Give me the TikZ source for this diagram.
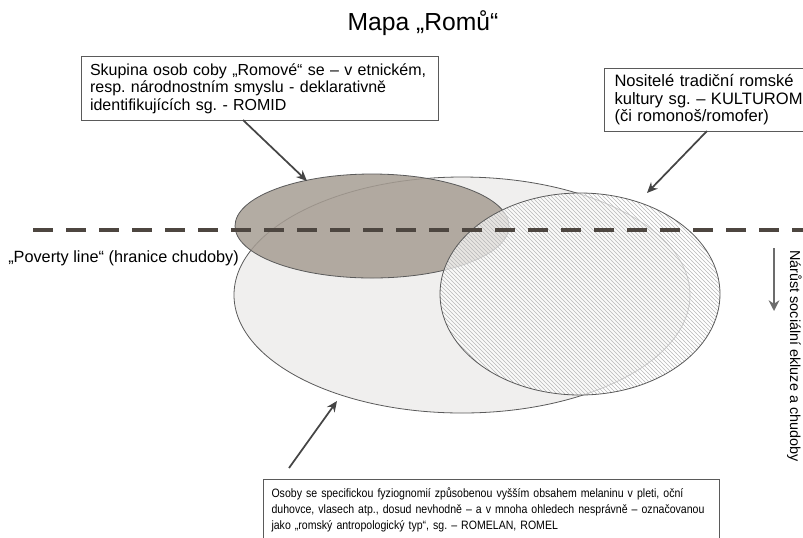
\documentclass[tikz,border=0pt]{standalone}
\usepackage{fontspec}
\setmainfont{Liberation Sans}
\newfontfamily\narrowsans[FakeStretch=0.87]{Liberation Sans}
\usetikzlibrary{patterns,arrows.meta,shapes.geometric}
\definecolor{edgegray}{HTML}{5A5A5A}
\definecolor{lightfill}{HTML}{F0EFEE}
\definecolor{darkfill}{HTML}{A69D93}
\definecolor{dashcol}{HTML}{4D4640}
\definecolor{arrowcol}{HTML}{454545}
\tikzset{
  labelbox/.style={draw=edgegray, line width=0.8pt, fill=white, rectangle, align=left,
    inner xsep=7.5pt, inner ysep=2pt, anchor=north west},
  blob/.style={ellipse, inner sep=0pt, draw=edgegray, line width=0.6pt},
  pointer/.style={draw=arrowcol, line width=1.3pt, -{Stealth[length=8pt,width=7pt]}},
  boxfont/.style={font=\fontsize{12}{13.1}\selectfont},
}
\begin{document}
\frenchspacing
\hyphenpenalty=10000
\begin{tikzpicture}[x=0.75pt,y=-0.75pt]
\useasboundingbox (0,0) rectangle (803,537);
\clip (0,0) rectangle (803,537);
% title
\node[font=\fontsize{18.5}{22}\selectfont] (title) at (423,23) {Mapa „Romů“};
% ellipses
\node[blob, fill=lightfill, minimum width=342pt, minimum height=177pt] (romelan) at (462,295) {};
\node[blob, fill=darkfill, fill opacity=0.85, minimum width=205.5pt, minimum height=78pt] (romid) at (372,226) {};
\node[blob, preaction={fill=white, fill opacity=0.7}, pattern=north west lines, pattern color=gray!55,
  minimum width=210pt, minimum height=151.5pt] (kulturom) at (580,294) {};
% poverty line
\coordinate (pl) at (33,230);
\coordinate (pr) at (810,230);
\draw[dashcol, line width=3pt, dash pattern=on 15pt off 9.75pt] (pl) -- (pr);
\node[font=\fontsize{12.2}{13.1}\selectfont, anchor=base west, inner sep=0pt] (poverty) at (8,262) {„Poverty line“ (hranice chudoby)};
% boxes
\node[labelbox, boxfont, inner xsep=6.375pt, text width=255pt, minimum height=48pt] (b1) at (81,56)
  {Skupina osob coby „Romové“ se – v etnickém,\\resp. národnostním smyslu - deklarativně\\identifikujících sg. - ROMID};
\node[labelbox, font=\fontsize{12.4}{13.1}\selectfont, text width=152pt, minimum height=47.25pt, inner ysep=3.5pt] (b2) at (604,68)
  {Nositelé tradiční romské\\kultury sg. – KULTUROM\\(či romonoš/romofer)};
\node[labelbox, font=\narrowsans\fontsize{9.1}{12}\selectfont, inner xsep=6pt, text width=330pt, minimum height=45.5pt] (b3) at (263,479)
  {Osoby se specifickou fyziognomií způsobenou vyšším obsahem melaninu v pleti, oční\\duhovce, vlasech atp., dosud nevhodně – a v mnoha ohledech nesprávně – označovanou\\jako „romský antropologický typ“, sg. – ROMELAN, ROMEL};
% pointers
\coordinate (s1) at (243,120);
\coordinate (t1) at (307,181);
\coordinate (s2) at (707,131);
\coordinate (t2) at (647,193);
\coordinate (s3) at (289,468);
\coordinate (t3) at (337,401);
\draw[pointer] (s1) -- (t1);
\draw[pointer] (s2) -- (t2);
\draw[pointer] (s3) -- (t3);
% side arrow and text
\coordinate (v1) at (774,248);
\coordinate (v2) at (774,311);
\draw[draw=gray!85!black, line width=1.6pt, -{Stealth[length=8pt,width=8pt]}] (v1) -- (v2);
\node[rotate=-90, anchor=base west, inner sep=0pt, font=\fontsize{10.8}{12}\selectfont] (side) at (790,250) {Nárůst sociální ekluze a chudoby};
\end{tikzpicture}
\end{document}
